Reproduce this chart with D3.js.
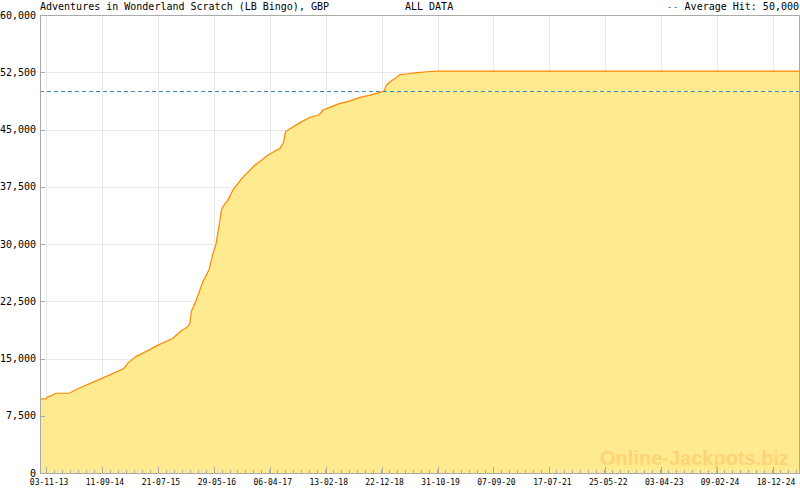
<!DOCTYPE html>
<html>
<head>
<meta charset="utf-8">
<script src="https://cdn.jsdelivr.net/npm/d3@7"></script>
<style>
  html, body { margin: 0; padding: 0; background: #fff; }
  svg { display: block; }
</style>
</head>
<body>
<svg id="chart" width="800" height="490"></svg>
<script>
const chartTitle = "Adventures in Wonderland Scratch (LB Bingo), GBP";
const periodLabel = "ALL DATA";
const averageHit = 50000;
const watermark = "Online-Jackpots.biz";

const dates = [
  "2013-09-30","2013-11-02","2013-11-13","2013-11-30","2013-12-28","2014-03-11","2014-05-06",
  "2014-09-11","2015-01-12","2015-02-03","2015-03-20","2015-05-31","2015-07-21","2015-10-13",
  "2015-11-21","2016-01-05","2016-01-16","2016-01-24","2016-02-18","2016-03-28","2016-05-01",
  "2016-05-24","2016-06-09","2016-06-26","2016-07-10","2016-07-21","2016-08-15","2016-09-12",
  "2016-11-01","2017-01-13","2017-02-10","2017-03-27","2017-06-02","2017-06-22","2017-07-03",
  "2017-07-28","2017-09-22","2017-11-17","2018-01-06","2018-01-29","2018-03-09","2018-04-23",
  "2018-06-29","2018-08-24","2018-10-19","2018-12-03","2019-01-06","2019-01-17","2019-02-08",
  "2019-03-08","2019-04-05","2019-05-20","2019-07-09","2019-09-20","2019-11-15","2025-05-12"
];
const values = [
  9700, 9700, 10000, 10100, 10450, 10450, 11100,
  12400, 13700, 14400, 15250, 16100, 16750, 17650,
  18500, 19200, 19600, 21200, 22500, 25050, 26600,
  28800, 29900, 32300, 34450, 35000, 35750, 37050,
  38600, 40350, 40800, 41650, 42550, 43300, 44700,
  45100, 45900, 46600, 46900, 47550, 47900, 48350,
  48750, 49200, 49500, 49800, 50050, 50800, 51250,
  51700, 52200, 52300, 52450, 52600, 52650, 52650
];

const xTickLabels = ["03-11-13","11-09-14","21-07-15","29-05-16","06-04-17","13-02-18","22-12-18",
  "31-10-19","07-09-20","17-07-21","25-05-22","03-04-23","09-02-24","18-12-24"];
const yTickValues = [0, 7500, 15000, 22500, 30000, 37500, 45000, 52500, 60000];

const parse = d3.timeParse("%Y-%m-%d");
const parseTick = d3.timeParse("%d-%m-%y");
const data = dates.map((d, i) => ({ date: parse(d), value: values[i] }));
const majorTicks = xTickLabels.map(parseTick);

const L = 40, R = 799, T = 15, B = 473;
const svg = d3.select("#chart");

const x = d3.scaleTime().domain([data[0].date, data[data.length - 1].date]).range([L, R]);
const y = d3.scaleLinear().domain([0, 60000]).range([B, T]);

const mono = "'DejaVu Sans Mono', 'Liberation Mono', monospace";
const fmt = d3.format(",");

// minor ticks: 7 intervals per major interval
const step = majorTicks[1] - majorTicks[0];
const minorTicks = [];
for (let t = +majorTicks[0] - step; t <= +x.domain()[1]; t += step / 7) {
  const d = new Date(t);
  if (d >= x.domain()[0] && d <= x.domain()[1]) minorTicks.push(d);
}

// grid
const grid = svg.append("g").attr("stroke", "#e8e8e8").attr("stroke-width", 1);
grid.selectAll("line.h").data(yTickValues.filter(v => v > 0 && v < 60000)).join("line")
  .attr("x1", L).attr("x2", R).attr("y1", d => Math.round(y(d)) + 0.5).attr("y2", d => Math.round(y(d)) + 0.5);
grid.selectAll("line.v").data(majorTicks).join("line")
  .attr("y1", T).attr("y2", B).attr("x1", d => Math.round(x(d)) + 0.5).attr("x2", d => Math.round(x(d)) + 0.5);

// area and line
const area = d3.area().x(d => x(d.date)).y0(y(0)).y1(d => y(d.value));
const line = d3.line().x(d => x(d.date)).y(d => y(d.value));
svg.append("path").datum(data).attr("d", area).attr("fill", "#ffea90");

// watermark
svg.append("text").attr("x", 789).attr("y", 465).attr("text-anchor", "end")
  .attr("font-family", "'Liberation Sans', Arial, sans-serif").attr("font-weight", "bold")
  .attr("font-size", 20).attr("fill", "#ffd476").text(watermark);

svg.append("path").datum(data).attr("d", line).attr("fill", "none")
  .attr("stroke", "#ff8800").attr("stroke-width", 1.2);

// average line
svg.append("line").attr("x1", L).attr("x2", R)
  .attr("y1", Math.round(y(averageHit)) + 0.5).attr("y2", Math.round(y(averageHit)) + 0.5)
  .attr("stroke", "#3a8fc4").attr("stroke-width", 1).attr("stroke-dasharray", "4,3");

// frame
svg.append("rect").attr("x", L + 0.5).attr("y", T + 0.5).attr("width", R - L).attr("height", B - T)
  .attr("fill", "none").attr("stroke", "#aaaaaa");

// x ticks
const xt = svg.append("g").attr("stroke", "#aaaaaa");
xt.selectAll("line.minor").data(minorTicks).join("line")
  .attr("x1", d => Math.round(x(d)) + 0.5).attr("x2", d => Math.round(x(d)) + 0.5)
  .attr("y1", B).attr("y2", B - 3);
xt.selectAll("line.major").data(majorTicks).join("line")
  .attr("x1", d => Math.round(x(d)) + 0.5).attr("x2", d => Math.round(x(d)) + 0.5)
  .attr("y1", B).attr("y2", B - 6);
svg.append("g").selectAll("text").data(majorTicks).join("text")
  .attr("x", d => x(d) + 3).attr("y", 485).attr("text-anchor", "middle")
  .attr("font-family", mono).attr("font-size", 8).attr("fill", "#000")
  .text((d, i) => xTickLabels[i]);

// y ticks
svg.append("g").attr("stroke", "#aaaaaa").selectAll("line").data(yTickValues).join("line")
  .attr("x1", L).attr("x2", L + 5).attr("y1", d => Math.round(y(d)) + 0.5).attr("y2", d => Math.round(y(d)) + 0.5);
svg.append("g").selectAll("text").data(yTickValues).join("text")
  .attr("x", 36).attr("y", d => y(d)).attr("dy", "0.35em").attr("text-anchor", "end")
  .attr("font-family", mono).attr("font-size", 10).attr("fill", "#000")
  .text(d => fmt(d));

// header
svg.append("text").attr("x", 40).attr("y", 10).attr("font-family", mono).attr("font-size", 10)
  .attr("fill", "#000").text(chartTitle);
svg.append("text").attr("x", 405).attr("y", 10).attr("font-family", mono).attr("font-size", 10)
  .attr("fill", "#000").text(periodLabel);
const leg = svg.append("text").attr("x", 799).attr("y", 10).attr("text-anchor", "end")
  .attr("font-family", mono).attr("font-size", 10).attr("fill", "#000");
leg.append("tspan").attr("fill", "#3a8fc4").text("--");
leg.append("tspan").text(" Average Hit: " + fmt(averageHit));
</script>
</body>
</html>
